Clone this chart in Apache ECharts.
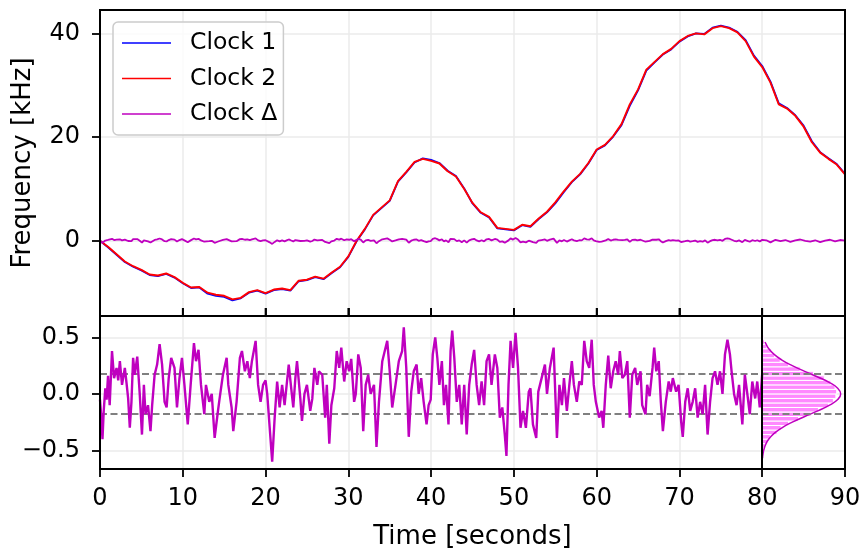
<!DOCTYPE html>
<html>
<head>
<meta charset="utf-8">
<script src="https://cdn.jsdelivr.net/npm/echarts@6/dist/echarts.min.js"></script>
<style>
  html, body { margin: 0; background: #fff; }
  #chart { width: 865px; height: 550px; }
</style>
</head>
<body>
<div id="chart"></div>
<script>
// clock frequencies sampled every second, kHz
const seconds = Array.from({ length: 91 }, (_, i) => i);
const clock1 = [0, -1.3, -2.7, -4.1, -5.0, -5.7, -6.6, -6.8, -6.4, -7.1, -8.2, -9.1, -9.0, -10.2, -10.6, -10.8, -11.5, -11.1, -10.0, -9.6,
  -10.2, -9.5, -9.3, -9.6, -7.8, -7.6, -7.0, -7.4, -6.2, -5.1, -3.1, -0.1, 2.2, 4.9, 6.3, 7.7, 11.4, 13.2, 15.1, 15.9,
  15.6, 15.0, 13.5, 12.5, 10.1, 7.2, 5.4, 4.5, 2.4, 2.2, 2.0, 3.0, 2.7, 4.2, 5.5, 7.2, 9.3, 11.3, 12.8, 14.9,
  17.5, 18.4, 20.1, 22.3, 26.0, 29.0, 32.8, 34.4, 35.9, 36.9, 38.4, 39.4, 40.0, 39.9, 41.1, 41.5, 41.1, 40.3, 38.7, 35.7,
  33.7, 30.7, 26.5, 25.6, 24.2, 22.2, 19.2, 17.1, 15.9, 14.8, 12.9];
const clock2 = [0, -1.2, -2.6, -4.0, -4.9, -5.6, -6.5, -6.7, -6.3, -7.0, -8.1, -9.0, -8.9, -10.0, -10.4, -10.6, -11.3, -11.0, -9.9, -9.5,
  -10.1, -9.4, -9.2, -9.5, -7.7, -7.5, -6.9, -7.3, -6.1, -5.0, -3.0, 0.0, 2.3, 5.0, 6.4, 7.8, 11.5, 13.3, 15.2, 15.8,
  15.4, 14.9, 13.4, 12.4, 10.0, 7.3, 5.5, 4.6, 2.5, 2.3, 2.1, 3.1, 2.8, 4.3, 5.6, 7.4, 9.5, 11.4, 12.9, 15.0,
  17.6, 18.5, 20.2, 22.5, 26.3, 29.2, 33.0, 34.5, 36.0, 37.0, 38.5, 39.5, 40.0, 39.8, 41.0, 41.4, 41.0, 40.2, 38.5, 35.5,
  33.5, 30.5, 26.3, 25.5, 24.1, 22.0, 19.0, 17.0, 15.8, 14.7, 12.8];

// clock difference samples [seconds, kHz]
const deltaSamples = [
  [0, -0.05], [0.15, -0.2], [0.3, -0.4], [0.45, -0.15], [0.64, 0.05], [0.8, -0.05], [0.97, 0.16], [1.17, -0.1], [1.45, 0.38], [1.7, 0.14],
  [2.0, 0.23], [2.2, 0.12], [2.4, 0.29], [2.66, 0.08], [3.0, 0.23], [3.2, 0.1], [3.4, -0.04], [3.6, -0.3], [3.8, -0.07], [4.0, 0.32],
  [4.2, 0.17], [4.5, 0.33], [4.8, 0.0], [5.07, -0.36], [5.3, 0.08], [5.5, -0.18], [5.8, -0.1], [6.1, -0.33], [6.3, -0.1], [6.6, 0.17],
  [6.9, 0.26], [7.2, 0.44], [7.5, 0.26], [7.8, -0.07], [8.05, -0.12], [8.3, 0.14], [8.6, 0.32], [9.0, 0.23], [9.3, -0.12], [9.6, 0.14],
  [9.9, 0.32], [10.2, 0.08], [10.6, -0.27], [10.95, 0.08], [11.35, 0.45], [11.6, 0.29], [11.9, 0.39], [12.2, 0.08], [12.6, -0.18], [12.8, 0.08],
  [13.2, -0.07], [13.5, 0.0], [13.85, -0.39], [14.2, -0.18], [14.45, -0.04], [14.85, 0.17], [15.3, 0.32], [15.5, 0.08], [15.9, -0.12], [16.1, -0.33],
  [16.5, -0.07], [16.9, 0.32], [17.15, 0.38], [17.5, 0.2], [17.8, 0.29], [18.1, 0.14], [18.35, 0.29], [18.8, 0.47], [19.1, 0.08], [19.4, -0.07],
  [19.7, 0.08], [20.0, 0.12], [20.2, 0.0], [20.5, -0.3], [20.8, -0.6], [21.1, -0.21], [21.4, 0.11], [21.7, -0.12], [22.0, 0.08], [22.3, -0.1],
  [22.55, 0.08], [22.8, 0.26], [23.1, 0.05], [23.35, -0.12], [23.6, 0.14], [23.8, 0.29], [24.2, -0.04], [24.4, -0.24], [24.7, 0.0], [25.0, 0.08],
  [25.4, -0.15], [25.65, -0.04], [25.9, 0.23], [26.25, 0.08], [26.45, 0.2], [26.85, 0.17], [27.2, -0.21], [27.4, 0.08], [27.7, -0.44], [27.95, -0.1],
  [28.3, 0.05], [28.6, 0.38], [28.9, 0.23], [29.15, 0.41], [29.5, 0.11], [29.8, 0.29], [30.1, 0.2], [30.35, 0.31], [30.7, -0.07], [30.9, 0.0],
  [31.2, 0.35], [31.5, 0.23], [31.8, -0.33], [32.1, 0.08], [32.4, 0.17], [32.7, 0.0], [33.1, 0.08], [33.4, -0.47], [33.7, -0.07], [34.1, 0.29],
  [34.4, 0.38], [34.7, 0.47], [35.0, 0.2], [35.3, -0.12], [35.7, 0.08], [36.1, 0.29], [36.5, 0.38], [36.7, 0.59], [37.0, 0.23], [37.3, -0.38],
  [37.6, 0.02], [37.9, 0.2], [38.25, 0.26], [38.5, 0.0], [38.8, 0.14], [39.1, -0.07], [39.45, -0.27], [39.7, -0.1], [39.95, -0.05], [40.2, 0.35],
  [40.5, 0.5], [40.75, 0.32], [41.0, 0.08], [41.3, 0.29], [41.55, -0.1], [41.8, 0.08], [42.1, -0.27], [42.35, 0.38], [42.55, 0.56], [42.8, 0.32],
  [43.1, -0.07], [43.4, 0.08], [43.7, -0.27], [44.0, 0.08], [44.3, -0.36], [44.6, 0.08], [44.9, 0.26], [45.2, 0.39], [45.5, 0.08], [45.8, -0.1],
  [46.1, 0.11], [46.4, -0.1], [46.7, 0.29], [47.0, 0.35], [47.3, 0.08], [47.7, 0.35], [48.0, 0.23], [48.3, -0.21], [48.6, -0.12], [48.9, -0.36],
  [49.1, -0.55], [49.35, 0.08], [49.6, 0.47], [49.9, 0.23], [50.2, 0.54], [50.5, 0.23], [50.8, -0.3], [51.1, -0.15], [51.45, -0.3], [51.8, 0.02],
  [52.0, 0.05], [52.3, -0.27], [52.7, -0.39], [52.95, 0.02], [53.35, 0.14], [53.75, 0.26], [54.0, 0.0], [54.35, 0.23], [54.8, 0.41], [55.2, -0.39],
  [55.5, 0.08], [55.8, -0.1], [56.05, 0.14], [56.4, -0.15], [56.7, 0.08], [57.0, 0.29], [57.25, 0.08], [57.6, -0.07], [57.9, 0.11], [58.2, 0.08],
  [58.5, 0.47], [58.8, 0.29], [59.1, 0.23], [59.4, 0.48], [59.65, 0.08], [59.9, -0.07], [60.3, -0.21], [60.6, -0.15], [60.8, -0.3], [61.1, 0.08],
  [61.4, 0.34], [61.7, 0.05], [62.0, 0.2], [62.3, 0.29], [62.6, 0.17], [62.8, 0.38], [63.1, 0.14], [63.4, 0.17], [63.7, 0.29], [64.0, -0.21],
  [64.3, 0.17], [64.65, 0.23], [64.9, 0.08], [65.3, 0.2], [65.5, -0.1], [65.9, -0.18], [66.1, 0.08], [66.4, -0.02], [66.75, 0.23], [66.95, 0.41],
  [67.2, 0.2], [67.5, 0.29], [67.75, -0.07], [68.0, -0.33], [68.35, -0.07], [68.7, 0.11], [68.95, 0.02], [69.2, 0.14], [69.6, 0.02], [69.9, 0.08],
  [70.2, -0.24], [70.4, -0.38], [70.7, -0.07], [71.0, 0.05], [71.3, -0.15], [71.6, -0.07], [71.9, 0.05], [72.2, -0.21], [72.5, -0.07], [72.8, -0.18],
  [73.1, 0.08], [73.4, -0.36], [73.7, -0.07], [74.0, 0.14], [74.3, 0.2], [74.6, 0.08], [74.9, 0.2], [75.2, 0.0], [75.5, 0.35], [75.8, 0.48],
  [76.1, 0.35], [76.3, 0.2], [76.6, 0.0], [76.9, -0.1], [77.2, 0.08], [77.6, -0.27], [77.9, 0.17], [78.2, 0.0], [78.5, -0.18], [78.8, 0.11],
  [79.15, -0.04], [79.4, 0.11], [79.7, -0.12], [80.0, 0.18],
  [80.5, 0.1], [81.0, -0.3], [81.6, 0.2], [82.2, -0.05], [82.8, 0.15], [83.4, -0.2], [84.0, 0.1], [84.6, 0.25], [85.2, 0.0], [85.8, -0.15],
  [86.4, 0.1], [87.0, -0.25], [87.6, 0.05], [88.2, 0.2], [88.8, -0.1], [89.4, 0.15], [90.0, 0.05]
];

// histogram of the difference (bin centre, bar length) and fitted normal curve (level, width)
const histCenters = [-0.58, -0.54, -0.50, -0.46, -0.42, -0.38, -0.34, -0.30, -0.26, -0.22, -0.18, -0.14, -0.10, -0.06, -0.02,
  0.02, 0.06, 0.10, 0.14, 0.18, 0.22, 0.26, 0.30, 0.34, 0.38, 0.42, 0.46, 0.50, 0.54, 0.58];
const histLengths = [0.05, 0.1, 0.3, 0.4, 0.7, 1.0, 1.8, 2.3, 3.2, 4.4, 5.9, 6.8, 8.0, 8.6, 8.9,
  9.0, 8.8, 8.3, 7.5, 6.2, 4.6, 3.2, 2.2, 1.5, 1.1, 0.6, 0.3, 0.2, 0.1, 0.05];
const histBin = 0.04;
const gaussLevels = [-0.57, -0.55, -0.50, -0.45, -0.40, -0.35, -0.30, -0.25, -0.20, -0.15, -0.10, -0.05, 0, 0.05, 0.10, 0.15, 0.20, 0.25, 0.30, 0.35, 0.40, 0.45, 0.46];
const gaussWidths = [0.07, 0.09, 0.21, 0.43, 0.82, 1.46, 2.40, 3.65, 5.15, 6.72, 8.14, 9.12, 9.48, 9.12, 8.14, 6.72, 5.15, 3.65, 2.40, 1.46, 0.82, 0.43, 0.37];
const sigmaLevels = [0.185, -0.177];
// time ticks on the seam between the panels
const seamTicks = [10, 20, 30, 40, 50, 60, 70, 80];

const FONT = 'DejaVu Sans';
const MAGENTA = '#bf00bf';
const FREQ_MIN = -14.5;
const minus = (v, digits) => (v < 0 ? '\u2212' : '') + Math.abs(v).toFixed(digits);
const gridLine = { show: true, showMinLine: false, showMaxLine: false, lineStyle: { color: '#ebebeb', width: 1.5 } };
const tick = (inside) => ({ show: true, inside, length: 8, lineStyle: { color: '#000', width: 1.8 } });
const noLine = { show: false, onZero: false };
const box = { show: true, borderColor: '#000', borderWidth: 2, backgroundColor: 'transparent', outerBoundsMode: 'none', z: 6 };

const chart = echarts.init(document.getElementById('chart'), null, { renderer: 'canvas' });

chart.setOption({
  animation: false,
  backgroundColor: '#fff',
  textStyle: { fontFamily: FONT },
  grid: [
    { ...box, left: 100, top: 10, width: 745, height: 306 },
    { ...box, left: 100, top: 316, width: 745, height: 153 },
    { ...box, left: 762, top: 316, width: 83, height: 153 },
  ],
  legend: {
    data: ['Clock 1', 'Clock 2', 'Clock Δ'],
    orient: 'vertical',
    left: 113,
    top: 22,
    icon: 'rect',
    itemWidth: 49,
    itemHeight: 1.5,
    itemGap: 11.5,
    selectedMode: false,
    backgroundColor: 'rgba(255,255,255,0.8)',
    borderColor: '#cccccc',
    borderWidth: 1.5,
    borderRadius: 5,
    padding: [9, 6, 9, 9],
    textStyle: { fontFamily: FONT, fontSize: 23.5, color: '#000', padding: [0, 0, 0, 14] },
  },
  xAxis: [
    {
      gridIndex: 0, type: 'value', position: 'bottom', min: 0, max: 90, interval: 10,
      axisLine: { show: true, onZero: false, lineStyle: { color: '#000', width: 2 } },
      axisTick: tick(true), axisLabel: { show: false }, splitLine: gridLine,
    },
    {
      gridIndex: 1, type: 'value', position: 'bottom', min: 0, max: 90, interval: 10,
      axisLine: noLine, axisTick: tick(false),
      axisLabel: { fontFamily: FONT, fontSize: 24, color: '#000', margin: 18 },
      splitLine: gridLine,
      name: 'Time [seconds]', nameLocation: 'middle', nameGap: 55,
      nameTextStyle: { fontFamily: FONT, fontSize: 26, color: '#000' },
    },
    {
      gridIndex: 2, type: 'value', min: 0, max: 10,
      axisLine: noLine, axisTick: { show: false }, axisLabel: { show: false }, splitLine: { show: false },
    },
  ],
  yAxis: [
    {
      gridIndex: 0, type: 'value', min: FREQ_MIN, max: 44.5, splitNumber: 3,
      axisLine: noLine, axisTick: tick(false),
      axisLabel: { fontFamily: FONT, fontSize: 24, color: '#000', margin: 20, showMinLabel: false, showMaxLabel: false, formatter: (v) => minus(v, 0) },
      splitLine: gridLine,
      name: 'Frequency [kHz]', nameLocation: 'middle', nameGap: 64,
      nameTextStyle: { fontFamily: FONT, fontSize: 26, color: '#000' },
    },
    {
      gridIndex: 1, type: 'value', min: -0.665, max: 0.69, splitNumber: 3,
      axisLine: noLine, axisTick: tick(false),
      axisLabel: { fontFamily: FONT, fontSize: 24, color: '#000', margin: 20, showMinLabel: false, showMaxLabel: false, formatter: (v) => minus(v, 1) },
      splitLine: gridLine,
    },
    {
      gridIndex: 2, type: 'value', min: -0.665, max: 0.69,
      axisLine: noLine, axisTick: { show: false }, axisLabel: { show: false }, splitLine: { show: false },
    },
  ],
  series: [
    {
      name: 'Clock 1', type: 'line', xAxisIndex: 0, yAxisIndex: 0, showSymbol: false, color: '#0000ff',
      lineStyle: { width: 1.8 }, data: seconds.map((t, i) => [t, clock1[i]]), z: 2,
    },
    {
      name: 'Clock 2', type: 'line', xAxisIndex: 0, yAxisIndex: 0, showSymbol: false, color: '#ff0000',
      lineStyle: { width: 1.9 }, data: seconds.map((t, i) => [t, clock2[i]]), z: 3,
    },
    {
      name: 'Clock Δ', type: 'line', xAxisIndex: 0, yAxisIndex: 0, showSymbol: false, color: MAGENTA,
      lineStyle: { width: 1.8 }, data: deltaSamples, z: 4,
    },
    {
      name: 'seam ticks', type: 'custom', xAxisIndex: 0, yAxisIndex: 0, z: 7, silent: true,
      data: seamTicks.map((t) => [t, FREQ_MIN]),
      renderItem: (params, api) => {
        const p = api.coord([api.value(0), api.value(1)]);
        return {
          type: 'line',
          shape: { x1: p[0], y1: p[1], x2: p[0], y2: p[1] - 8 },
          style: { stroke: '#000', lineWidth: 1.8 },
        };
      },
    },
    {
      name: 'Δ detail', type: 'line', xAxisIndex: 1, yAxisIndex: 1, showSymbol: false, color: MAGENTA,
      lineStyle: { width: 2.4 }, data: deltaSamples.filter((p) => p[0] <= 80), z: 5,
      markLine: {
        silent: true, symbol: 'none', label: { show: false },
        lineStyle: { color: '#808080', width: 2, type: [7, 3.5] },
        data: sigmaLevels.map((v) => ({ yAxis: v })),
      },
    },
    {
      name: 'histogram', type: 'custom', xAxisIndex: 2, yAxisIndex: 2, z: 3,
      data: histCenters.map((c, i) => [histLengths[i], c]),
      renderItem: (params, api) => {
        const len = api.value(0);
        const c = api.value(1);
        const a = api.coord([0, c + histBin / 2]);
        const b = api.coord([len, c - histBin / 2]);
        return {
          type: 'rect',
          shape: { x: a[0], y: a[1], width: b[0] - a[0], height: b[1] - a[1] },
          style: { fill: '#ff88ff', stroke: '#ffffff', lineWidth: 1 },
        };
      },
    },
    {
      name: 'fit', type: 'line', xAxisIndex: 2, yAxisIndex: 2, showSymbol: false, smooth: true, color: MAGENTA,
      lineStyle: { width: 1.5 }, data: gaussLevels.map((v, i) => [gaussWidths[i], v]), z: 4,
    },
  ],
});
</script>
</body>
</html>
